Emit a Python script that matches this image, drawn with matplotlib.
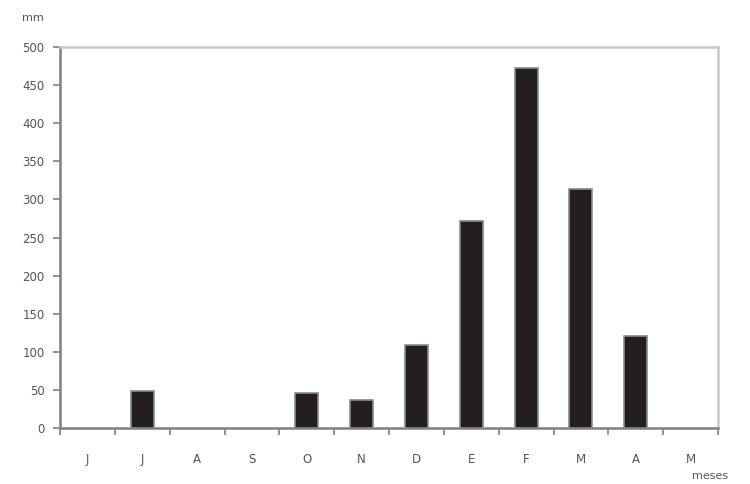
import matplotlib
matplotlib.use("Agg")
import matplotlib.pyplot as plt
import numpy as np

months = ["J", "J", "A", "S", "O", "N", "D", "E", "F", "M", "A", "M"]
rain_mm = [0, 48, 0, 0, 46, 37, 109, 272, 473, 313, 121, 0]
yticks = list(range(0, 501, 50))

fig = plt.figure(figsize=(7.5, 4.84), dpi=100)
ax = fig.add_axes([60/750, 1 - 428/484, (718-60)/750, (428-47)/484])

x = np.arange(len(months))
lw = [1.2 if v > 0 else 0 for v in rain_mm]
ax.bar(x + 0.5, rain_mm, width=0.42, color="#231f20", edgecolor="#8a8a8a", linewidth=lw, zorder=3)

ax.set_xlim(0, len(months))
ax.set_ylim(0, 500)
ax.set_yticks(yticks)
ax.set_yticklabels([str(v) for v in yticks], fontsize=8.5, color="#555555")
ax.set_xticks(np.arange(len(months) + 1))
ax.set_xticklabels([])
ax.set_xticks(x + 0.5, minor=True)
ax.set_xticklabels(months, minor=True, fontsize=8.5, color="#555555")
ax.tick_params(axis="x", which="major", direction="out", length=5, color="#808080", width=1.2)
ax.tick_params(axis="x", which="minor", length=0, pad=18)
ax.tick_params(axis="y", direction="out", length=5, color="#808080", width=1.2, pad=6)

for side in ["left", "bottom"]:
    ax.spines[side].set_color("#808080")
    ax.spines[side].set_linewidth(1.8)
for side in ["top", "right"]:
    ax.spines[side].set_color("#c8c8c8")
    ax.spines[side].set_linewidth(1.8)

fig.text(22/750, 1 - 18/484, "mm", fontsize=8, color="#555555", ha="left", va="center")
fig.text(710/750, 1 - 476/484, "meses", fontsize=8, color="#555555", ha="center", va="center")

fig.savefig("out.png", dpi=100)
